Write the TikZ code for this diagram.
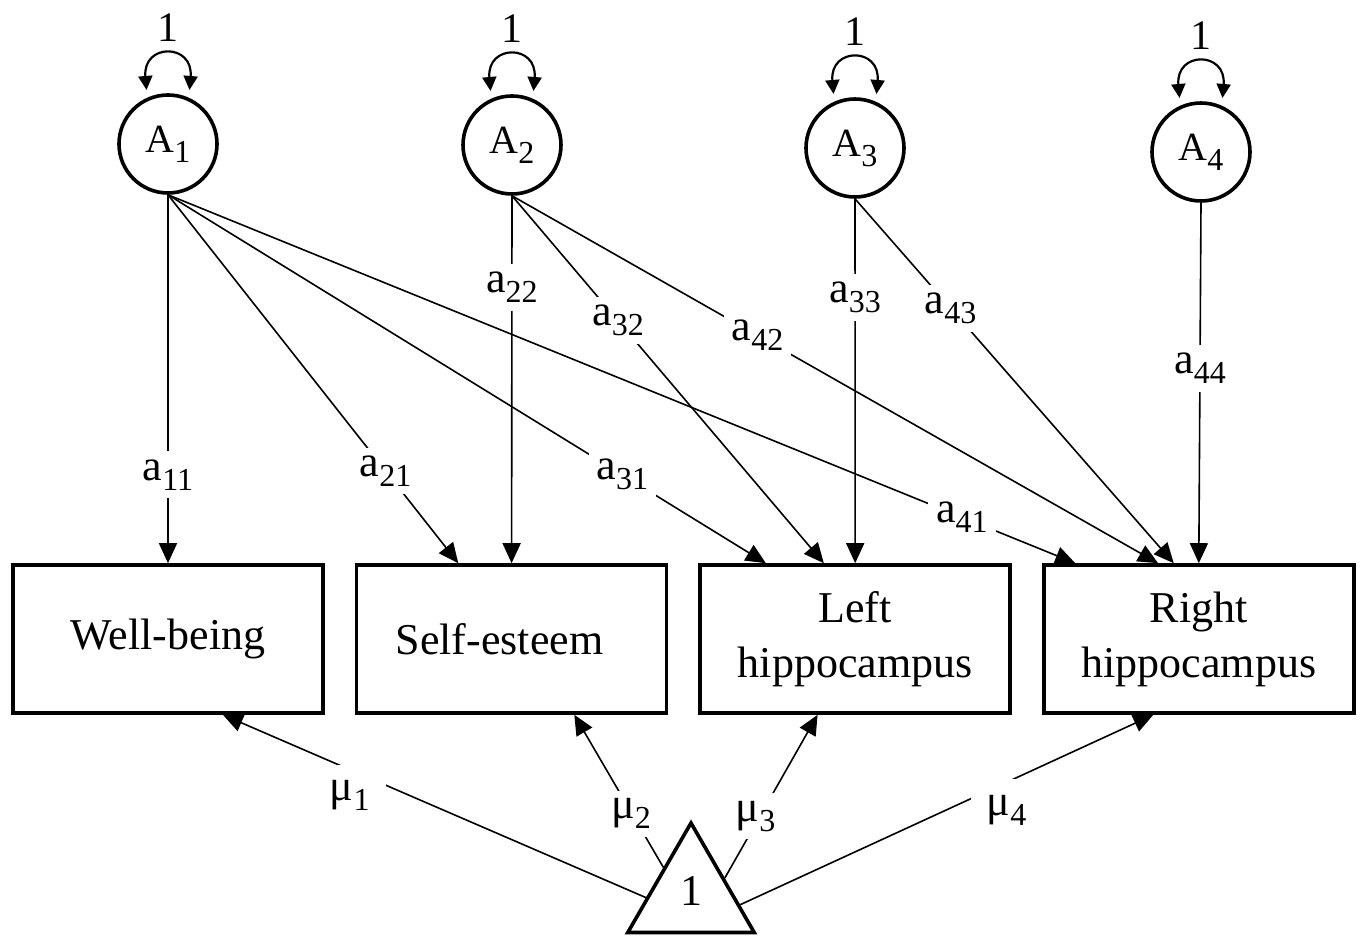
\documentclass[tikz,border=0pt]{standalone}
\usepackage{fontspec}
\setmainfont{Liberation Serif}
\usetikzlibrary{arrows.meta,positioning,calc,shapes.geometric}

\newcommand{\lsub}[1]{\raisebox{-5pt}{\fontsize{16}{16}\selectfont #1}}

\begin{document}
\begin{tikzpicture}[
    x=0.5pt, y=0.5pt,
    latent/.style={circle, draw, line width=1.8pt, minimum size=49pt, inner sep=0pt, font=\fontsize{20}{24}\selectfont},
    observed/.style={rectangle, draw, line width=1.8pt, minimum width=155pt, minimum height=74pt, align=center, font=\fontsize{22}{27.5}\selectfont},
    const/.style={regular polygon, regular polygon sides=3, draw, line width=1.8pt, minimum size=73pt, inner sep=0pt, font=\fontsize{22}{26}\selectfont},
    load/.style={-{Triangle[length=10pt, width=9pt]}, line width=0.8pt},
    var/.style={{Triangle[length=7pt, width=7pt]}-{Triangle[length=7pt, width=7pt]}, line width=1.1pt},
    coef/.style={fill=white, inner sep=4pt, font=\fontsize{22}{26}\selectfont},
    unit/.style={inner sep=0pt, font=\fontsize{21}{24}\selectfont},
]
    \useasboundingbox (0,0) rectangle (1360,939);

    % observed variables
    \node[observed] (WB) at (168,300) {Well-being};
    \node[observed, right=15pt of WB] (SE) {Self-esteem\hspace*{12pt}};
    \node[observed, right=15pt of SE] (LH) {Left\\hippocampus};
    \node[observed, right=15pt of LH] (RH) {Right\\hippocampus};

    % latent factors
    \node[latent] (A1) at (168,795) {A\lsub{1}};
    \node[latent] (A2) at (512,794) {A\lsub{2}};
    \node[latent] (A3) at (855,791) {A\lsub{3}};
    \node[latent] (A4) at (1201,787) {A\lsub{4}};

    % constant
    \node[const] (one) at (691,43) {\raisebox{5pt}{1}};

    % variances
    \foreach \f in {A1,A2,A3,A4}
        \draw[var] ([yshift=4pt]\f.115) .. controls +(-4,47) and +(4,47) .. node[midway, above=6pt, unit] {1} ([yshift=4pt]\f.65);

    % loadings
    \draw[load] (A1.south) -- node[coef, pos=.76] {a\lsub{11}} (WB.north);
    \draw[load] (A1.south) -- node[coef, pos=.75] {a\lsub{21}} ($(SE.north west)!.33!(SE.north east)$);
    \draw[load] (A1.south) -- node[coef, pos=.76] {a\lsub{31}} ($(LH.north west)!.215!(LH.north east)$);
    \draw[load] (A1.south) -- node[coef, pos=.875] {a\lsub{41}} ($(RH.north west)!.106!(RH.north east)$);
    \draw[load] (A2.south) -- node[coef, pos=.25] {a\lsub{22}} (SE.north);
    \draw[load] (A2.south) -- node[coef, pos=.34] {a\lsub{32}} ($(LH.north west)!.40!(LH.north east)$);
    \draw[load] (A2.south) -- node[coef, pos=.38] {a\lsub{42}} ($(RH.north west)!.37!(RH.north east)$);
    \draw[load] (A3.south) -- node[coef, pos=.27] {a\lsub{33}} (LH.north);
    \draw[load] (A3.south) -- node[coef, pos=.30] {a\lsub{43}} ($(RH.north west)!.42!(RH.north east)$);
    \draw[load] (A4.south) -- node[coef, pos=.46] {a\lsub{44}} (RH.north);

    % means
    \draw[load] (one.182) -- node[coef, pos=.70, yshift=-13pt, inner sep=8pt] {μ\lsub{1}} ($(WB.south west)!.675!(WB.south east)$);
    \draw[load] (one.134) -- node[coef, pos=.43, xshift=3pt, yshift=-6pt] {μ\lsub{2}} ($(SE.south west)!.70!(SE.south east)$);
    \draw[load] (one.28) -- node[coef, pos=.44, xshift=-5pt, yshift=-5pt] {μ\lsub{3}} ($(LH.south west)!.38!(LH.south east)$);
    \draw[load] (one.350) -- node[coef, pos=.645, yshift=-14pt, inner sep=8pt] {μ\lsub{4}} ($(RH.south west)!.355!(RH.south east)$);
\end{tikzpicture}
\end{document}
